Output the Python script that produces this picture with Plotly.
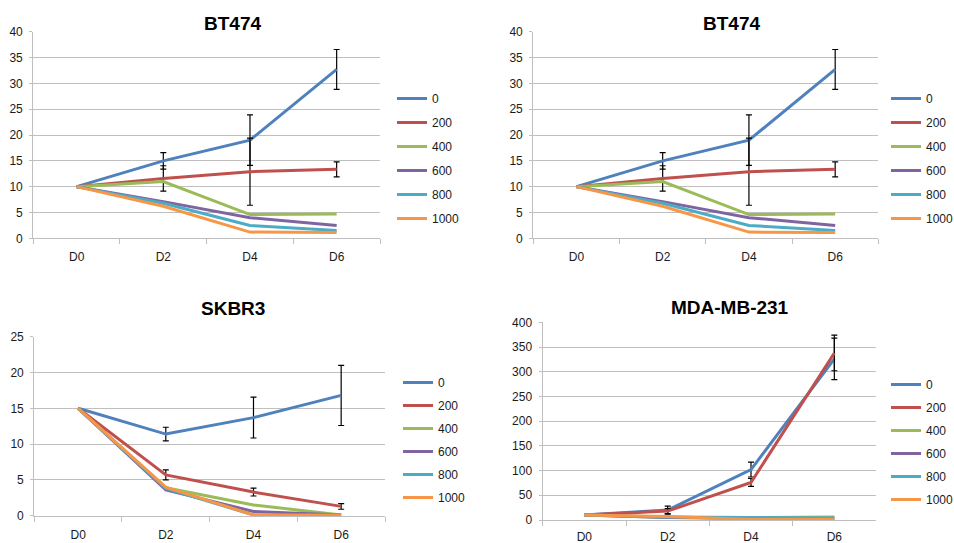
import numpy as np
import plotly.graph_objects as go

W, H = 954, 543

days = ["D0", "D2", "D4", "D6"]
doses = ["0", "200", "400", "600", "800", "1000"]
colors = ["#4F81BD", "#C0504D", "#9BBB59", "#8064A2", "#4BACC6", "#F79646"]

# BT474 (shown twice)
bt_0 = [10, 15, 19, 32.7]
bt_0_err = [None, 1.6, 4.9, 3.85]
bt_200 = [10, 11.6, 12.9, 13.35]
bt_200_err = [None, 2.45, 6.5, 1.45]
bt_400 = [10, 11.0, 4.6, 4.7]
bt_600 = [10, 7.1, 4.0, 2.5]
bt_800 = [10, 6.8, 2.5, 1.5]
bt_1000 = [10, 6.2, 1.2, 1.1]

# SKBR3
sk_0 = [15, 11.4, 13.7, 16.8]
sk_0_err = [None, 0.95, 2.85, 4.2]
sk_200 = [15, 5.7, 3.3, 1.3]
sk_200_err = [None, 0.7, 0.55, 0.4]
sk_400 = [15, 3.9, 1.5, 0.1]
sk_600 = [15, 3.6, 0.6, 0.1]
sk_800 = [15, 3.8, 0.1, 0.05]
sk_1000 = [15, 4.0, 0.1, 0.05]

# MDA-MB-231
md_0 = [10, 20, 102, 326]
md_0_err = [None, 8, 15, 42]
md_200 = [10, 18, 76, 338]
md_200_err = [None, 5, 8, 36]
md_400 = [10, 5, 5, 6]
md_600 = [10, 5, 3, 3]
md_800 = [10, 6, 5, 4]
md_1000 = [10, 7, 1, 1]

panels = [
    dict(title="BT474", series=[bt_0, bt_200, bt_400, bt_600, bt_800, bt_1000],
         errs=[bt_0_err, bt_200_err], ymax=40, dtick=5,
         box=(33.3, 380, 31.7, 238.3), tpos=(232, 23), leg=(392, 84), gap=5, stand=(7, 4)),
    dict(title="BT474", series=[bt_0, bt_200, bt_400, bt_600, bt_800, bt_1000],
         errs=[bt_0_err, bt_200_err], ymax=40, dtick=5,
         box=(533.3, 878.3, 31.7, 238.3), tpos=(731, 23), leg=(886, 84), gap=5, stand=(7, 4)),
    dict(title="SKBR3", series=[sk_0, sk_200, sk_400, sk_600, sk_800, sk_1000],
         errs=[sk_0_err, sk_200_err], ymax=25, dtick=5,
         box=(34.3, 385, 336.7, 515.7), tpos=(233, 308), leg=(398, 368), gap=4, stand=(8, 4)),
    dict(title="MDA-MB-231", series=[md_0, md_200, md_400, md_600, md_800, md_1000],
         errs=[md_0_err, md_200_err], ymax=400, dtick=50,
         box=(542.7, 876, 322.3, 520), tpos=(730, 307), leg=(886, 370), gap=4, stand=(5, 4)),
]

fig = go.Figure()
grid = "#bfbfbf"
tickfont = dict(family="Liberation Sans, Arial, sans-serif", size=12, color="#1a1a1a")
layout = dict(annotations=[])

for i, p in enumerate(panels):
    n = "" if i == 0 else str(i + 1)
    xa, ya = "x" + n, "y" + n
    lg = "legend" + n
    for j, (vals, dose) in enumerate(zip(p["series"], doses)):
        tr = dict(x=days, y=vals, mode="lines", name=dose,
                  line=dict(color=colors[j], width=3),
                  xaxis=xa, yaxis=ya, legend=lg, legendgroup=f"p{i}-{dose}",
                  hoverinfo="skip")
        if j < len(p["errs"]):
            err = np.array([np.nan if v is None else v for v in p["errs"][j]], dtype=float)
            tr["error_y"] = dict(type="data", array=err, visible=True,
                                 color="black", thickness=1.2, width=3)
        fig.add_trace(go.Scatter(**tr))
    x0, x1, y0, y1 = p["box"]
    layout["xaxis" + n] = dict(
        domain=[x0 / W, x1 / W], anchor=ya, type="category",
        range=[-0.5, len(days) - 0.5], autorange=False,
        showgrid=False, showline=True, linecolor=grid, linewidth=1.3,
        ticks="outside", tickson="boundaries", ticklen=5, tickcolor=grid,
        tickwidth=1.3, tickfont=tickfont, ticklabelstandoff=p["stand"][0],
        fixedrange=True, automargin=False)
    layout["yaxis" + n] = dict(
        domain=[1 - y1 / H, 1 - y0 / H], anchor=xa,
        range=[0, p["ymax"]], autorange=False, dtick=p["dtick"], tick0=0,
        showgrid=True, gridcolor=grid, gridwidth=1.3, zeroline=False,
        showline=True, linecolor=grid, linewidth=1.3,
        ticks="outside", ticklen=3, tickcolor=grid, tickwidth=1.3,
        tickfont=tickfont, ticklabelstandoff=p["stand"][1], fixedrange=True,
        automargin=False)
    lx, ly = p["leg"]
    layout[lg] = dict(x=lx / W, y=1 - ly / H, xanchor="left", yanchor="top",
                      xref="paper", yref="paper",
                      font=dict(family="Liberation Sans, Arial, sans-serif", size=12, color="#1a1a1a"),
                      tracegroupgap=p["gap"], bgcolor="rgba(0,0,0,0)",
                      itemclick=False, itemdoubleclick=False)
    tx, ty = p["tpos"]
    layout["annotations"].append(dict(
        text="<b>" + p["title"] + "</b>", x=tx / W, y=1 - ty / H,
        xref="paper", yref="paper", xanchor="center", yanchor="middle",
        showarrow=False,
        font=dict(family="Liberation Sans, Arial, sans-serif", size=19, color="black")))

fig.update_layout(
    width=W, height=H, margin=dict(l=0, r=0, t=0, b=0, autoexpand=False),
    paper_bgcolor="white", plot_bgcolor="white", showlegend=True,
    **layout)

fig.write_html("out.html", config={"displayModeBar": False},
               post_script="document.body.style.margin='0';document.body.style.padding='0';")
